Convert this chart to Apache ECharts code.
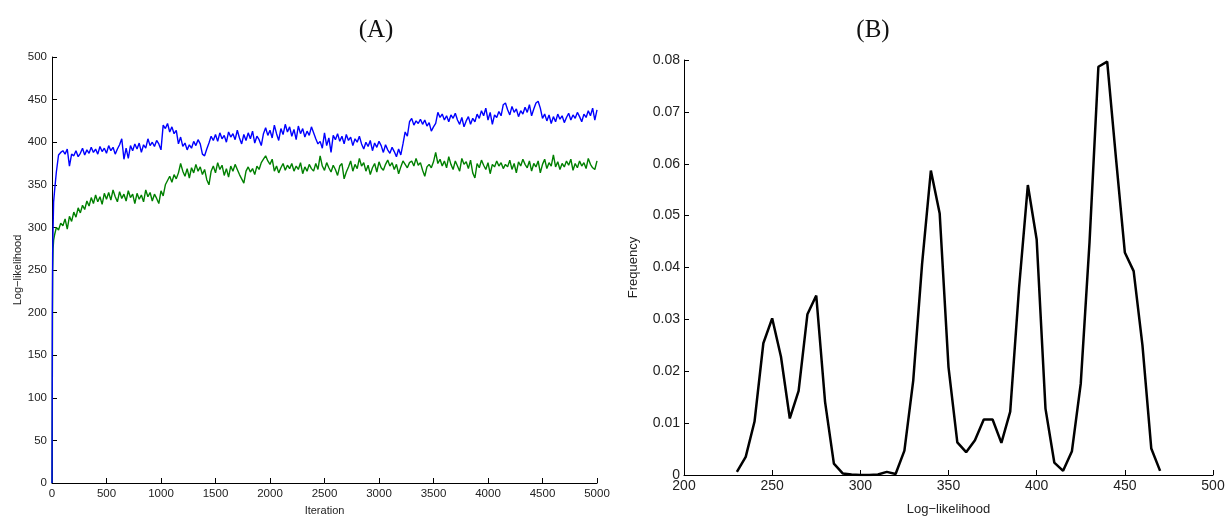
<!DOCTYPE html>
<html><head><meta charset="utf-8">
<script src="https://cdn.jsdelivr.net/npm/echarts@6/dist/echarts.min.js"></script>
<style>html,body{margin:0;padding:0;background:#fff}#c{width:1229px;height:521px}</style>
</head><body><div id="c"></div>
<script>
// ---- Panel A data ----
const earlyIter = [0, 3, 6, 10, 15, 25, 40, 60, 80];
const blueEarly = [0, 200, 270, 300, 330, 345, 365, 385, 388];
const greenEarly = [0, 120, 250, 275, 285, 292, 300, 297, 305];
const regularStart = 100, regularStep = 20;
const blueVals = [
390,386,392,372,386, 384,390,383,387,393, 385,391,387,394,388, 392,386,395,389,393,
387,396,390,394,386, 392,397,404,380,393, 381,396,390,398,392, 399,388,397,393,404,
396,400,395,402,398, 391,420,416,422,412, 418,410,414,398,406, 395,399,391,397,393,
401,396,403,398,386, 384,392,399,407,402, 409,401,411,404,408, 400,412,406,410,403,
414,405,398,409,402, 411,404,413,399,407, 403,396,410,417,408, 414,405,420,410,402,
416,409,421,412,418, 407,415,403,419,410, 416,406,413,408,418, 411,404,398,401,393,
411,396,405,388,408, 403,410,401,407,398, 409,402,406,396,404, 400,407,398,392,400,
395,402,390,399,394, 401,396,388,397,391, 387,394,389,383,392, 385,398,412,407,424,
428,420,425,422,427, 421,426,419,423,413, 418,422,435,429,433, 426,431,424,432,428,
434,426,421,429,418, 425,430,421,428,424, 433,428,437,431,440, 426,435,421,432,429,
436,431,444,446,438, 432,442,435,439,430, 437,433,441,435,444, 431,439,446,448,440,
428,433,425,432,422, 430,424,433,427,431, 423,429,434,426,432, 428,435,430,424,433,
429,437,431,440,426, 438];
const greenVals = [
302,310,298,313,307, 318,312,323,317,326, 321,331,325,335,328, 338,330,336,327,340,
333,341,332,344,336, 330,342,334,339,331, 343,335,339,328,340, 333,338,330,344,336,
341,331,339,334,328, 343,337,350,355,360, 353,362,357,364,375, 366,360,369,358,370,
364,374,366,371,362, 368,356,350,366,372, 364,376,368,373,361, 369,359,372,366,374,
368,362,357,352,366, 371,365,369,362,372, 368,376,380,384,378, 374,380,366,372,364,
370,375,367,373,369, 375,366,372,368,376, 363,371,366,374,369, 366,375,368,384,372,
367,376,370,365,373, 368,361,372,375,357, 365,371,378,366,374, 369,381,372,376,366,
373,362,370,375,365, 377,370,367,374,379, 372,376,368,374,363, 371,378,374,370,376,
378,372,381,373,376, 367,360,371,374,370, 377,388,375,380,372, 378,370,383,374,368,
378,372,366,381,374, 377,369,379,364,358, 375,370,379,373,368, 376,363,374,371,378,
372,376,369,374,371, 379,368,375,364,377, 372,380,374,370,378, 366,375,371,378,364,
374,380,369,376,372, 385,371,377,368,375, 371,378,373,380,367, 375,370,378,372,376,
369,381,374,370,368, 378];
const xTicksA = {min: 0, max: 5000, interval: 500};
const yTicksA = {min: 0, max: 500, interval: 50};

// ---- Panel B data ----
const llBins = [230,235,240,245,250,255,260,265,270,275,280,285,290,295,300,305,310,315,320,325,330,335,340,345,350,355,360,365,370,375,380,385,390,395,400,405,410,415,420,425,430,435,440,445,450,455,460,465,470];
const freqVals = [0.0006,0.0035,0.0103,0.0254,0.0302,0.0228,0.0109,0.0162,0.0310,0.0346,0.0141,0.0022,0.0003,0.0001,0,0,0.0001,0.0006,0.0002,0.0047,0.0182,0.0406,0.0587,0.0504,0.0208,0.0063,0.0044,0.0067,0.0107,0.0107,0.0062,0.0122,0.0360,0.0559,0.0454,0.0128,0.0024,0.0008,0.0046,0.0176,0.0450,0.0787,0.0797,0.0610,0.0429,0.0393,0.0250,0.0051,0.0008];
const xTicksB = {min: 200, max: 500, interval: 50};
const yTicksB = {min: 0, max: 0.08, interval: 0.01};

function buildA(early, earlyVals, vals) {
  const out = early.map((it, i) => [it, earlyVals[i]]);
  vals.forEach((v, i) => out.push([regularStart + i * regularStep, v]));
  return out;
}
const blueData = buildA(earlyIter, blueEarly, blueVals);
const greenData = buildA(earlyIter, greenEarly, greenVals);
const freqData = llBins.map((b, i) => [b, freqVals[i]]);

const sans = 'Liberation Sans, Arial, sans-serif';
function axisCommon(fs, margin) {
  return {
    axisLine: {show: true, onZero: false, lineStyle: {color: '#000', width: 1}},
    axisTick: {show: true, inside: true, length: 5, lineStyle: {color: '#000'}},
    axisLabel: {color: '#222', fontSize: fs, fontFamily: sans, margin: margin, formatter: v => String(v)},
    splitLine: {show: false}
  };
}

const chart = echarts.init(document.getElementById('c'), null, {renderer: 'canvas'});
chart.setOption({
  animation: false,
  backgroundColor: '#fff',
  title: [
    {text: '(A)', left: 371, top: 13, textAlign: 'center', textStyle: {fontFamily: 'Liberation Serif, serif', fontSize: 25, fontWeight: 'normal', color: '#111'}},
    {text: '(B)', left: 868, top: 13, textAlign: 'center', textStyle: {fontFamily: 'Liberation Serif, serif', fontSize: 25, fontWeight: 'normal', color: '#111'}}
  ],
  grid: [
    {left: 52, right: 632, top: 57, bottom: 34},
    {left: 684, right: 16, top: 60, bottom: 44}
  ],
  xAxis: [
    Object.assign({type: 'value', gridIndex: 0, min: xTicksA.min, max: xTicksA.max, interval: xTicksA.interval,
      name: 'Iteration', nameLocation: 'middle', nameGap: 22,
      nameTextStyle: {fontFamily: sans, fontSize: 11, color: '#222'}}, axisCommon(11.5, 5)),
    Object.assign({type: 'value', gridIndex: 1, min: xTicksB.min, max: xTicksB.max, interval: xTicksB.interval,
      name: 'Log\u2212likelihood', nameLocation: 'middle', nameGap: 28,
      nameTextStyle: {fontFamily: sans, fontSize: 13, color: '#222'}}, axisCommon(14, 4))
  ],
  yAxis: [
    Object.assign({type: 'value', gridIndex: 0, min: yTicksA.min, max: yTicksA.max, interval: yTicksA.interval,
      name: 'Log\u2212likelihood', nameLocation: 'middle', nameGap: 29,
      nameTextStyle: {fontFamily: sans, fontSize: 11, color: '#222'}}, axisCommon(11.5, 5)),
    Object.assign({type: 'value', gridIndex: 1, min: yTicksB.min, max: yTicksB.max, interval: yTicksB.interval,
      name: 'Frequency', nameLocation: 'middle', nameGap: 44,
      nameTextStyle: {fontFamily: sans, fontSize: 13, color: '#222'}}, axisCommon(14, 4))
  ],
  series: [
    {type: 'line', xAxisIndex: 0, yAxisIndex: 0, data: greenData, showSymbol: false, lineStyle: {color: '#008000', width: 1.4}, z: 2},
    {type: 'line', xAxisIndex: 0, yAxisIndex: 0, data: blueData, showSymbol: false, lineStyle: {color: '#0000ff', width: 1.4}, z: 3},
    {type: 'line', xAxisIndex: 1, yAxisIndex: 1, data: freqData, showSymbol: false, lineStyle: {color: '#000', width: 2.5}}
  ]
});
</script></body></html>
